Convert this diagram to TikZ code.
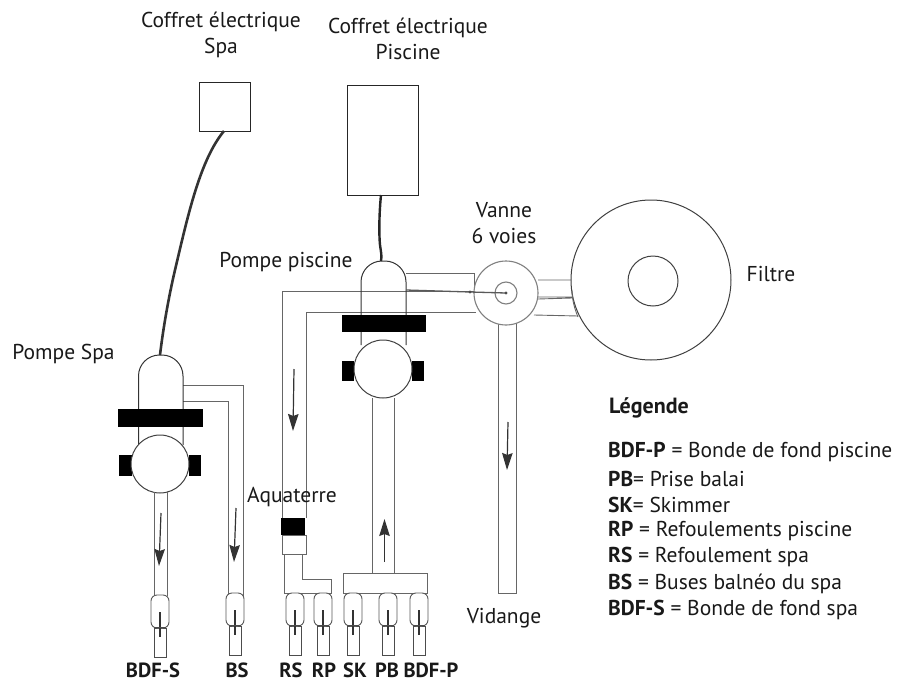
\documentclass[tikz,border=0pt]{standalone}
\usepackage{fontspec}
\setmainfont{PT Sans}
\usetikzlibrary{arrows.meta}
\tikzset{
  lbl/.style={inner sep=0pt,font=\fontsize{21.5}{26.5}\selectfont,align=center,text=black!90},
  tag/.style={inner sep=0pt,font=\fontsize{20.5}{20}\selectfont\bfseries,text=black!90},
  leg/.style={inner sep=0pt,anchor=west,font=\fontsize{21.5}{20}\selectfont,text=black!90},
  boxn/.style={draw=black!85,line width=0.9pt,fill=white,inner sep=0pt},
  pipe/.style={draw=black!60,line width=0.9pt},
  wall/.style={draw=black!80,line width=1pt},
  blk/.style={fill=black,draw=none,inner sep=0pt},
  disc/.style={circle,draw=black!75,line width=1pt,fill=white,inner sep=0pt},
  gdisc/.style={circle,draw=black!50,line width=1.1pt,fill=white,inner sep=0pt},
  flow/.style={draw=black!80,line width=1.2pt,-{Stealth[length=17pt,width=10.5pt,inset=2pt]}},
  caps/.style={rectangle,rounded corners=6pt,draw=black!65,line width=0.9pt,fill=white,minimum width=18pt,minimum height=33pt,inner sep=0pt},
  stem/.style={rectangle,draw=black!70,line width=0.9pt,minimum width=12pt,minimum height=29pt,inner sep=0pt},
}
\newcommand{\prise}[3]{% name, x, top of capsule
  \node[stem] (#1s) at (#2,#3+47.5) {};
  \node[caps] (#1c) at (#2,#3+16.5) {};
  \draw[draw=black!80,line width=1.4pt] (#2,#3+17) -- (#2,#3+42);
  \draw[draw=black!70,line width=0.7pt] (#1s.north west) -- (#1s.north east);
}
\begin{document}
\begin{tikzpicture}[x=1pt,y=-1pt]
\useasboundingbox (0,0) rectangle (898,683);
% electrical boxes
\node[boxn,minimum width=51pt,minimum height=49pt] (cs) at (225,106.5) {};
\node[boxn,minimum width=71pt,minimum height=110pt] (cp) at (382.5,140) {};
% spa pipes
\coordinate (bsa) at (183,385); \coordinate (bsb) at (243,385); \coordinate (bsc) at (243,596);
\coordinate (bsd) at (183,401); \coordinate (bse) at (228,401); \coordinate (bsf) at (228,596);
\draw[pipe] (bsa) -- (bsb) -- (bsc) (bsd) -- (bse) -- (bsf);
% spa pump
\draw[wall,rounded corners=21pt] (138.5,445) -- (138.5,355) -- (183,355) -- (183,445);
\node[blk,minimum width=85pt,minimum height=18pt] (sbar) at (160.5,418) {};
\node[blk,minimum width=13pt,minimum height=21pt] (sl) at (125,465.5) {};
\node[blk,minimum width=12pt,minimum height=21pt] (sr) at (195,465.5) {};
\node[disc,minimum size=58pt] (sp) at (160,464) {};
\coordinate (sa) at (154,492); \coordinate (sb) at (154,596);
\coordinate (sc) at (167,492); \coordinate (sd) at (167,596);
\draw[pipe] (sa) -- (sb) (sc) -- (sd);
\coordinate (spt) at (160,355);
\coordinate (csb) at (224,131);
\draw[black!80,line width=2.6pt] (csb) .. controls (200,160) and (188,215) .. (175,270) .. controls (168,300) and (163,330) .. (spt);
% piscine pipes
\coordinate (p1) at (282,518); \coordinate (p2) at (282,291); \coordinate (p3) at (475,291);
\coordinate (p4) at (306,518); \coordinate (p5) at (306,312); \coordinate (p6) at (476,312);
\coordinate (p7) at (406,273); \coordinate (p8) at (474,273); \coordinate (p9) at (474,288);
\draw[pipe] (p1) -- (p2) -- (p3) (p4) -- (p5) -- (p6) (p7) -- (p8) -- (p9);
% piscine pump
\draw[wall,rounded corners=21pt] (361,345) -- (361,261) -- (406,261) -- (406,345);
\node[blk,minimum width=84pt,minimum height=17pt] (pbar) at (383.5,323.5) {};
\node[blk,minimum width=12pt,minimum height=20pt] (pl) at (348,371) {};
\node[blk,minimum width=12pt,minimum height=20pt] (pr) at (418,371) {};
\node[disc,minimum size=58pt] (pp) at (383,369) {};
\coordinate (ppt) at (381,261);
\coordinate (cpb) at (381,195);
\draw[black!85,line width=2.4pt] (cpb) .. controls (379,215) and (379,235) .. (380,245) .. controls (381,252) and (382,256) .. (ppt);
% aquaterre
\node[boxn,draw=black!60,minimum width=24pt,minimum height=19pt] (aq2) at (294,544.5) {};
\node[blk,minimum width=24pt,minimum height=17pt] (aq) at (293,526.5) {};
\coordinate (a1) at (284,554); \coordinate (a2) at (284,593); \coordinate (a3) at (331,593);
\coordinate (a4) at (331,579); \coordinate (a5) at (302,579); \coordinate (a6) at (302,554);
\draw[pipe] (a1) -- (a2) -- (a3) -- (a4) -- (a5) -- (a6);
% manifold
\node[boxn,draw=black!60,minimum width=84pt,minimum height=20pt] (man) at (385,583) {};
\coordinate (t1) at (372,398); \coordinate (t2) at (372,573); \coordinate (t3) at (394,398); \coordinate (t4) at (394,573);
\draw[pipe] (t1) -- (t2) (t3) -- (t4);
% valve to filter
\coordinate (f1) at (538,280); \coordinate (f2) at (572,280);
\coordinate (f3) at (538,297); \coordinate (f4) at (572,297);
\coordinate (f5) at (538,299); \coordinate (f6) at (572,298);
\coordinate (f7) at (534,315); \coordinate (f8) at (578,316);
\draw[pipe] (f1) -- (f2) (f3) -- (f4) (f5) -- (f6) (f7) -- (f8);
% filter
\node[disc,draw=black!75,minimum size=160pt] (fil) at (651,280) {};
\node[disc,draw=black!75,minimum size=50pt] (filin) at (653,281) {};
\draw[pipe] (572,290) .. controls (572,300) and (575,310) .. (578,317);
% valve and drain
\coordinate (v1) at (498,320); \coordinate (v2) at (498,593); \coordinate (v3) at (516,593); \coordinate (v4) at (516,320);
\draw[pipe] (v1) -- (v2) -- (v3) -- (v4);
\node[gdisc,minimum size=64pt] (val) at (506,293) {};
\node[gdisc,minimum size=22pt] (valin) at (506,293) {};
\coordinate (d1) at (406,290); \coordinate (d2) at (470,292);
\draw[black!65,line width=1.3pt] (d1) -- (d2) -- (valin.center);
\fill[black!70] (d2) circle (1.6pt) (valin.center) circle (1.6pt);
% drains
\prise{bdfs}{160}{595}
\prise{bs}{235}{593}
\prise{rs}{295}{593}
\prise{rp}{323}{593}
\prise{sk}{353}{593}
\prise{pb}{388}{593}
\prise{bdfp}{419}{593}
% flow arrows
\coordinate (ar1a) at (161,513); \coordinate (ar1b) at (159,566);
\coordinate (ar2a) at (236,508); \coordinate (ar2b) at (234,562);
\coordinate (ar3a) at (294,369); \coordinate (ar3b) at (293,431);
\coordinate (ar4a) at (384.5,562); \coordinate (ar4b) at (384.5,519);
\coordinate (ar5a) at (508,422); \coordinate (ar5b) at (507,470);
\draw[flow] (ar1a) -- (ar1b);
\draw[flow] (ar2a) -- (ar2b);
\draw[flow] (ar3a) -- (ar3b);
\draw[flow] (ar4a) -- (ar4b);
\draw[flow] (ar5a) -- (ar5b);
% labels
\node[lbl] (l1) at (221,35) {Coffret électrique\\Spa};
\node[lbl] (l2) at (408,39) {Coffret électrique\\Piscine};
\node[lbl] (l3) at (504,223) {Vanne\\6 voies};
\node[lbl] (l4) at (771,274) {Filtre};
\node[lbl] (l5) at (286,262) {Pompe piscine};
\node[lbl] (l6) at (63.5,354) {Pompe Spa};
\node[lbl] (l7) at (292,497) {Aquaterre};
\node[lbl] (l8) at (504,618) {Vidange};
\node[tag] (g1) at (153,670) {BDF-S};
\node[tag] (g2) at (237,670) {BS};
\node[tag] (g3) at (291,670) {RS};
\node[tag] (g4) at (324,670) {RP};
\node[tag] (g5) at (355,670) {SK};
\node[tag] (g6) at (387,670) {PB};
\node[tag] (g7) at (431,670) {BDF-P};
\node[leg,font=\fontsize{22}{20}\selectfont\bfseries] (t0) at (609,408) {Légende};
\node[leg] (t1l) at (608,452) {\textbf{BDF-P} = Bonde de fond piscine};
\node[leg] (t2l) at (608,479) {\textbf{PB}= Prise balai};
\node[leg] (t3l) at (608,505) {\textbf{SK}= Skimmer};
\node[leg] (t4l) at (608,531) {\textbf{RP} = Refoulements piscine};
\node[leg] (t5l) at (608,557) {\textbf{RS} = Refoulement spa};
\node[leg] (t6l) at (608,584) {\textbf{BS} = Buses balnéo du spa};
\node[leg] (t7l) at (608,610) {\textbf{BDF-S} = Bonde de fond spa};
\end{tikzpicture}
\end{document}
